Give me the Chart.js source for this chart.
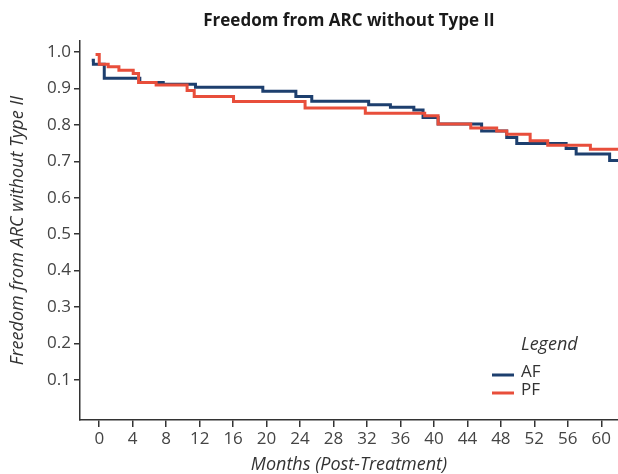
<!DOCTYPE html>
<html lang="en">
<head>
  <meta charset="UTF-8" />
  <title>Freedom from ARC without Type II</title>
  <script src="https://cdn.jsdelivr.net/npm/chart.js"></script>
  <style>
    html, body { margin: 0; padding: 0; background: #fff; }
    #wrap { width: 618px; height: 474px; position: relative; }
  </style>
</head>
<body>
  <div id="wrap"><canvas id="chartCanvas"></canvas></div>

  <script>
    // step points: month where the value starts, and the value
    const afMonths = [-0.9, -0.7, 0.6, 4.85, 7.65, 11.5, 19.55, 23.5, 25.4, 32.2, 34.8, 37.6, 38.7, 40.5, 45.7, 48.7, 49.9, 55.8, 57, 61, 62];
    const afFree = [0.977, 0.966, 0.928, 0.916, 0.911, 0.903, 0.892, 0.878, 0.865, 0.855, 0.848, 0.841, 0.82, 0.802, 0.783, 0.765, 0.749, 0.735, 0.72, 0.702, 0.702];
    const pfMonths = [-0.44, 0, 1.07, 2.35, 4.06, 4.7, 6.8, 10.5, 11.35, 16.05, 24.6, 31.8, 38.9, 40.5, 44.4, 47.5, 48.7, 51.5, 53.6, 58.7, 62];
    const pfFree = [0.993, 0.966, 0.959, 0.95, 0.941, 0.916, 0.909, 0.894, 0.878, 0.864, 0.846, 0.832, 0.825, 0.802, 0.791, 0.783, 0.774, 0.756, 0.744, 0.733, 0.733];
    const xTicks = [0, 4, 8, 12, 16, 20, 24, 28, 32, 36, 40, 44, 48, 52, 56, 60];
    const yTicks = [0.1, 0.2, 0.3, 0.4, 0.5, 0.6, 0.7, 0.8, 0.9, 1.0];

    const AF_COLOR = '#1d3f6e';
    const PF_COLOR = '#e84e3b';
    const FONT = "'Open Sans', 'Noto Sans', sans-serif";

    const toPoints = (xs, ys) => xs.map((x, i) => ({ x: x, y: ys[i] }));

    // title over the plot area + the small legend box inside it
    const decorations = {
      id: 'decorations',
      afterDraw(chart) {
        const ctx = chart.ctx;
        const area = chart.chartArea;
        ctx.save();
        ctx.fillStyle = '#1a1a1a';
        ctx.font = "bold 17px " + FONT;
        ctx.textAlign = 'center';
        ctx.textBaseline = 'middle';
        ctx.fillText('Freedom from ARC without Type II', (area.left + area.right) / 2, 21);

        ctx.textAlign = 'left';
        ctx.fillStyle = '#333';
        ctx.font = "italic 18px " + FONT;
        ctx.fillText('Legend', 521, 345);

        ctx.font = "17px " + FONT;
        const items = [[chart.data.datasets[0], 372], [chart.data.datasets[1], 390]];
        items.forEach(([ds, y]) => {
          ctx.strokeStyle = ds.borderColor;
          ctx.lineWidth = 3;
          ctx.beginPath();
          ctx.moveTo(492, y + 3);
          ctx.lineTo(514, y + 3);
          ctx.stroke();
          ctx.fillText(ds.label, 521, y);
        });
        ctx.restore();
      }
    };

    const ctx = document.getElementById('chartCanvas').getContext('2d');
    new Chart(ctx, {
      type: 'line',
      data: {
        datasets: [
          {
            label: 'AF',
            data: toPoints(afMonths, afFree),
            borderColor: AF_COLOR,
            borderWidth: 3,
            stepped: true,
            pointRadius: 0,
            fill: false,
            order: 1
          },
          {
            label: 'PF',
            data: toPoints(pfMonths, pfFree),
            borderColor: PF_COLOR,
            borderWidth: 3,
            stepped: true,
            pointRadius: 0,
            fill: false,
            order: 0
          }
        ]
      },
      options: {
        responsive: true,
        maintainAspectRatio: false,
        animation: false,
        layout: { padding: { top: 41, right: 0, bottom: 0, left: 0 } },
        plugins: {
          legend: { display: false },
          title: { display: false },
          tooltip: { enabled: false }
        },
        scales: {
          x: {
            type: 'linear',
            min: -2.3,
            max: 62,
            afterBuildTicks: (scale) => { scale.ticks = xTicks.map(v => ({ value: v })); },
            afterFit: (scale) => { scale.height = 54; },
            border: { display: true, color: '#333', width: 1.5 },
            grid: { drawOnChartArea: false, drawTicks: true, tickLength: 7, color: '#333', lineWidth: 1.5 },
            ticks: { color: '#444', padding: 2, font: { family: FONT, size: 17 }, maxRotation: 0 },
            title: {
              display: true,
              text: 'Months (Post-Treatment)',
              color: '#333',
              font: { family: FONT, size: 18, style: 'italic' },
              padding: { top: 0, bottom: -2 }
            }
          },
          y: {
            min: -0.01,
            max: 1.03,
            afterBuildTicks: (scale) => { scale.ticks = yTicks.map(v => ({ value: v })); },
            afterFit: (scale) => { scale.width = 80; },
            border: { display: true, color: '#333', width: 1.5 },
            grid: { drawOnChartArea: false, drawTicks: true, tickLength: 6, color: '#333', lineWidth: 1.5 },
            ticks: {
              color: '#444',
              padding: 3,
              font: { family: FONT, size: 17 },
              callback: (v) => Number(v).toFixed(1)
            },
            title: {
              display: true,
              text: 'Freedom from ARC without Type II',
              color: '#333',
              font: { family: FONT, size: 18, style: 'italic' },
              padding: { top: 7, bottom: 0 }
            }
          }
        }
      },
      plugins: [decorations]
    });
  </script>
</body>
</html>
